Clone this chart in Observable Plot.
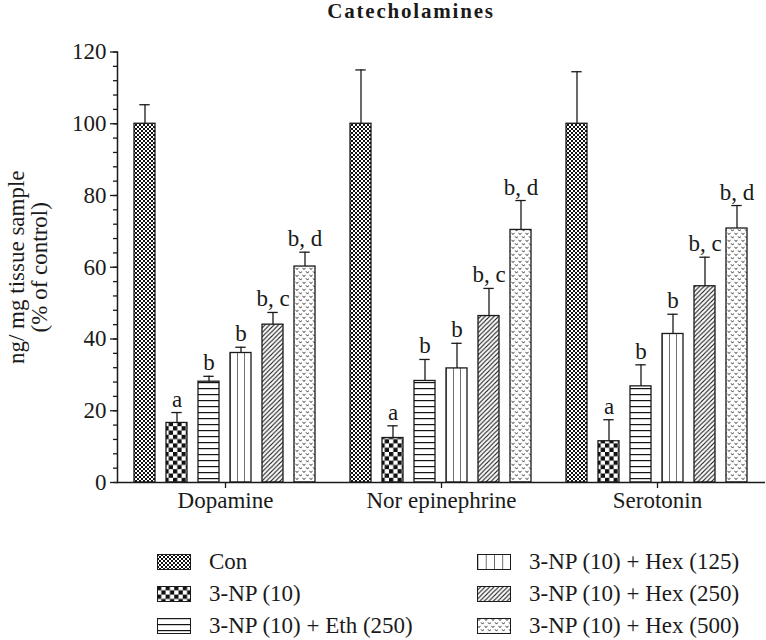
<!DOCTYPE html>
<html>
<head>
<meta charset="utf-8">
<script src="https://cdn.jsdelivr.net/npm/d3@7"></script>
<script src="https://cdn.jsdelivr.net/npm/@observablehq/plot@0.6"></script>
<style>
  html, body { margin: 0; padding: 0; background: white; }
  body { width: 766px; font-family: "Liberation Serif", "Times New Roman", serif; color: #1a1a1a; }
  #title { height: 22px; line-height: 22px; font-size: 21px; font-weight: bold; letter-spacing: 1.8px;
           text-align: center; padding-left: 56px; white-space: nowrap; }
  #legend { display: grid; grid-template-rows: repeat(3, 32px); grid-auto-flow: column;
            grid-template-columns: 320px 289px; padding-left: 157px; padding-top: 22px; font-size: 23px; line-height: 1.1; }
  .item { display: flex; align-items: center; white-space: nowrap; }
  .item svg { margin-right: 18px; flex: none; }
</style>
</head>
<body>
<svg width="0" height="0" style="position:absolute">
  <defs>
    <pattern id="pat0" patternUnits="userSpaceOnUse" width="4" height="4">
      <rect width="4" height="4" fill="white"/>
      <rect x="0" y="0" width="2" height="2" fill="#111"/>
      <rect x="2" y="2" width="2" height="2" fill="#111"/>
    </pattern>
    <pattern id="pat1" patternUnits="userSpaceOnUse" width="8.6" height="8.6">
      <rect width="8.6" height="8.6" fill="white"/>
      <rect x="0" y="0" width="4.3" height="4.3" fill="#111"/>
      <rect x="4.3" y="4.3" width="4.3" height="4.3" fill="#111"/>
    </pattern>
    <pattern id="pat2" patternUnits="userSpaceOnUse" width="10" height="6">
      <rect width="10" height="6" fill="white"/>
      <rect x="0" y="0" width="10" height="1.2" fill="#111"/>
    </pattern>
    <pattern id="pat3" patternUnits="objectBoundingBox" width="0.3333" height="1">
      <rect width="40" height="2000" fill="white"/>
      <rect x="-0.6" y="0" width="1.2" height="2000" fill="#111"/>
    </pattern>
    <pattern id="pat3L" patternUnits="objectBoundingBox" width="0.25" height="1">
      <rect width="40" height="2000" fill="white"/>
      <rect x="-0.6" y="0" width="1.2" height="2000" fill="#111"/>
    </pattern>
    <pattern id="pat4" patternUnits="userSpaceOnUse" width="4.5" height="4.5">
      <rect width="4.5" height="4.5" fill="white"/>
      <path d="M0,4.5 L4.5,0 M-1.125,1.125 L1.125,-1.125 M3.375,5.625 L5.625,3.375" stroke="#111" stroke-width="1.1"/>
    </pattern>
    <pattern id="pat5" patternUnits="userSpaceOnUse" width="7" height="7">
      <rect width="7" height="7" fill="white"/>
      <path d="M0.5,0.8 L2,2.6 L3.5,0.8 M4,4.3 L5.5,6.1 L7,4.3" stroke="#111" stroke-width="0.8" fill="none"/>
    </pattern>
  </defs>
</svg>
<div id="title">Catecholamines</div>
<div id="chart"></div>
<div id="legend"></div>
<script>
const categories = ["Dopamine", "Nor epinephrine", "Serotonin"];
const treatments = ["Con", "3-NP (10)", "3-NP (10) + Eth (250)", "3-NP (10) + Hex (125)", "3-NP (10) + Hex (250)", "3-NP (10) + Hex (500)"];
const dopamine = [100, 16.6, 28.1, 36.1, 44.0, 60.2];
const dopamineErr = [5.3, 2.9, 1.5, 1.6, 3.4, 4.0];
const norEpinephrine = [100, 12.4, 28.3, 31.8, 46.4, 70.4];
const norEpinephrineErr = [15.0, 3.4, 6.0, 7.0, 7.7, 8.2];
const serotonin = [100, 11.5, 26.8, 41.4, 54.7, 70.8];
const serotoninErr = [14.5, 6.0, 6.0, 5.5, 8.1, 6.4];
const letters = ["", "a", "b", "b", "b, c", "b, d"];
const yMajorTicks = [0, 20, 40, 60, 80, 100, 120];
const yMinorTicks = d3.range(0, 121, 4);

const patterns = ["url(#pat0)", "url(#pat1)", "url(#pat2)", "url(#pat3)", "url(#pat4)", "url(#pat5)"];
const legendPatterns = ["url(#pat0)", "url(#pat1)", "url(#pat2)", "url(#pat3L)", "url(#pat4)", "url(#pat5)"];

const values = [dopamine, norEpinephrine, serotonin];
const errors = [dopamineErr, norEpinephrineErr, serotoninErr];
const data = [];
categories.forEach((c, ci) => treatments.forEach((t, ti) => {
  data.push({category: c, treatment: t, value: values[ci][ti], err: errors[ci][ti], letter: letters[ti]});
}));

const ink = "#1a1a1a";
const chart = Plot.plot({
  width: 766,
  height: 502,
  marginLeft: 116,
  marginRight: 0,
  marginTop: 29.5,
  marginBottom: 42,
  style: {fontFamily: '"Liberation Serif", "Times New Roman", serif', fontSize: "23px", color: ink, background: "white", overflow: "visible"},
  fx: {domain: categories, paddingInner: 0, paddingOuter: 0, label: null},
  x: {domain: treatments, paddingInner: 0.33, paddingOuter: 0.52, axis: null},
  y: {domain: [0, 120]},
  color: {domain: treatments, range: patterns},
  marks: [
    Plot.barY(data, {fx: "category", x: "treatment", y: "value", fill: "treatment", stroke: ink, strokeWidth: 1.3}),
    Plot.ruleX(data, {fx: "category", x: "treatment", y1: "value", y2: d => d.value + d.err, stroke: ink, strokeWidth: 1.3}),
    Plot.tickY(data, {fx: "category", x: "treatment", y: d => d.value + d.err, insetLeft: 5.3, insetRight: 5.3, stroke: ink, strokeWidth: 1.3}),
    Plot.text(data, {fx: "category", x: "treatment", y: d => d.value + d.err, text: "letter", lineAnchor: "bottom", dy: -6, fontSize: 23, fill: ink}),
    Plot.ruleY([0], {stroke: ink, strokeWidth: 1.5}),
    Plot.axisY({ticks: yMinorTicks, tickSize: 4, tickFormat: () => "", label: null, stroke: ink, strokeWidth: 1.3}),
    Plot.axisY({ticks: yMajorTicks, tickSize: 7, tickPadding: 4, fontSize: 23, stroke: ink, strokeWidth: 1.3,
      label: "ng/ mg tissue sample\n(% of control)", labelAnchor: "center", labelOffset: 110, labelArrow: "none"}),
    Plot.axisFx({anchor: "bottom", tickSize: 6, tickPadding: 3.5, fontSize: 23, label: null, stroke: ink, strokeWidth: 1.3}),
    Plot.frame({anchor: "left", facet: "super", stroke: ink, strokeWidth: 1.5})
  ]
});
document.getElementById("chart").appendChild(chart);

const legend = document.getElementById("legend");
treatments.forEach((t, i) => {
  const item = document.createElement("div");
  item.className = "item";
  item.innerHTML = `<svg width="34" height="16"><rect x="0.5" y="0.5" width="33" height="15" fill="${legendPatterns[i]}" stroke="${ink}" stroke-width="1"/></svg><span>${t}</span>`;
  legend.appendChild(item);
});
</script>
</body>
</html>
